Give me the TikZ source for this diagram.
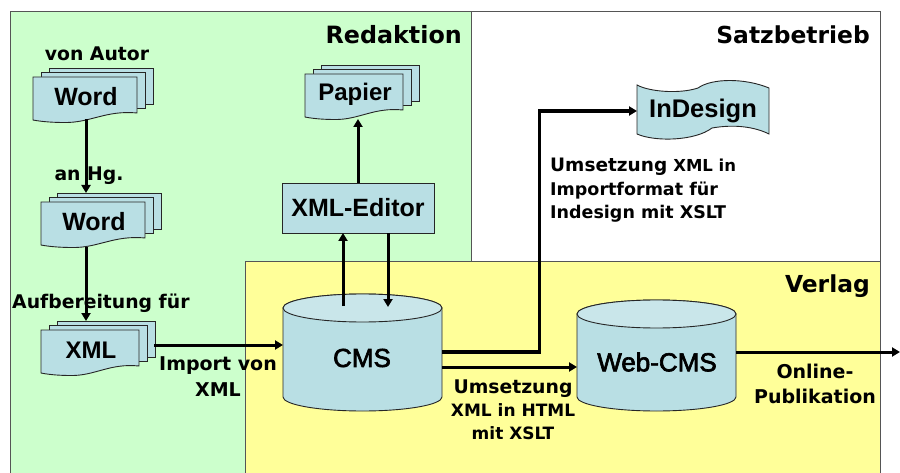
\documentclass[tikz,border=0pt]{standalone}
\usepackage{fontspec}
\setmainfont{Liberation Sans}
\newfontfamily\dbfont[FakeBold=2.5]{Liberation Sans}
\newfontfamily\vfont{DejaVu Sans}
\usetikzlibrary{arrows.meta}
\definecolor{grn}{HTML}{CCFFCC}
\definecolor{ylw}{HTML}{FFFF99}
\definecolor{blu}{HTML}{B9DFE4}
\definecolor{blt}{HTML}{C9E6EA}
\definecolor{brd}{HTML}{555555}
\newcommand{\sz}[1]{\fontsize{#1}{#1}\selectfont}
\tikzset{
  x=1pt,y=-1pt,
  region/.style={draw=brd,line width=1pt},
  shapeline/.style={draw=black!85,fill=blu,line width=0.9pt},
  flow/.style={line width=3pt,-{Triangle[length=8pt,width=9pt]}},
  lbl/.style={font=\vfont\bfseries\fontsize{#1}{#1}\selectfont,inner sep=0pt,align=center},
  nm/.style={font=\bfseries\fontsize{#1}{#1}\selectfont,inner sep=0pt},
  dbn/.style={font=\dbfont\fontsize{26}{26}\selectfont,inner sep=0pt},
  pt/.style={inner sep=0pt,minimum size=0pt}
}
% one page of a document: x,y,w
\newcommand{\docpage}[3]{%
  \path[shapeline] (#1,#2) -- (#1+#3,#2) -- (#1+#3,#2+36)
    .. controls (#1+0.7*#3,#2+33) and (#1+0.55*#3,#2+46) .. (#1+0.3*#3,#2+45.5)
    .. controls (#1+0.15*#3,#2+45.5) and (#1+0.05*#3,#2+44) .. (#1,#2+43) -- cycle;
}
\newcommand{\stack}[4]{% name,x,y,w
  \path[shapeline] (#2+16,#3-9) rectangle ++(#4,36);
  \path[shapeline] (#2+8,#3-4.5) rectangle ++(#4,36);
  \docpage{#2}{#3}{#4}
  \node[pt,minimum width=#4,minimum height=46] (#1) at (#2+#4/2,#3+23) {};
}
\newcommand{\cyl}[6]{% name,cx,left,right,topy,bottomy
  \pgfmathsetmacro{\rx}{(#4-#3)/2}
  \path[shapeline] (#3,#5+14) -- (#3,#6-14) arc[start angle=180,end angle=0,x radius=\rx,y radius=14] -- (#4,#5+14)
     arc[start angle=0,end angle=-180,x radius=\rx,y radius=14];
  \path[shapeline,fill=blt] (#2,#5+14) ellipse[x radius=\rx,y radius=14];
  \node[pt,minimum width=#4-#3,minimum height=#6-#5] (#1) at (#2,{(#5+#6)/2}) {};
}
\begin{document}
\begin{tikzpicture}
\useasboundingbox (0,0) rectangle (900,473);
\fill[white] (0,0) rectangle (900,473);
% regions
\path[region,fill=grn] (10.5,12) rectangle (471.5,480);
\path[region,fill=white] (471.5,12) rectangle (880.5,262);
\path[region,fill=ylw] (245,262) rectangle (880.5,480);
\node[lbl=23.8,anchor=east] (tr) at (462,35) {Redaktion};
\node[lbl=23.4,anchor=east] (ts) at (870,35) {Satzbetrieb};
\node[lbl=23.4,anchor=east] (tv) at (870,286) {Verlag};
% documents
\stack{w1}{33}{77}{104}
\stack{w2}{41}{202}{104}
\stack{x1}{41}{330}{98}
\stack{p1}{305}{74}{98}
\node[nm=25] (w1t) at (86,97) {Word};
\node[nm=25] (w2t) at (94,222) {Word};
\node[nm=24] (x1t) at (91,350) {XML};
\node[nm=24] (p1t) at (355,94) {Papier};
% XML editor
\node[shapeline,minimum width=152pt,minimum height=50pt,inner sep=0pt,font=\bfseries\fontsize{25}{25}\selectfont] (ed) at (358,208) {XML-Editor};
% InDesign tape
\path[shapeline] (637,85) .. controls (650,92) and (680,94) .. (698,88)
  .. controls (712,78) and (745,78) .. (769,88) -- (769,134)
  .. controls (755,127) and (735,124) .. (712,128)
  .. controls (695,141) and (655,142) .. (637,134) -- cycle;
\node[pt,minimum width=132pt,minimum height=57pt] (ind) at (703,111) {};
\node[nm=25.5] (indt) at (703,111) {InDesign};
% cylinders
\cyl{cms}{362.5}{283}{442}{294}{411}
\cyl{web}{656.5}{577}{736}{300}{411}
\node[dbn] (cmst) at (362,358) {CMS};
\node[dbn] (webt) at (657,362) {Web-CMS};
% coordinates
\coordinate (w1o) at (86,119);
\coordinate (w2i) at (86,193);
\coordinate (w2o) at (86,247);
\coordinate (x1i) at (86,321);
\coordinate (x1o) at (154,345);
\coordinate (cmsl) at (283,345);
\coordinate (cmsup) at (343,306);
\coordinate (edl) at (343,233);
\coordinate (edr) at (388,233);
\coordinate (cmsin) at (388,307);
\coordinate (edt) at (358,183);
\coordinate (pb) at (358,119);
\coordinate (cmsa) at (442,352);
\coordinate (cmsb) at (442,367);
\coordinate (bend) at (539.5,352);
\coordinate (bend2) at (539.5,111);
\coordinate (indl) at (637,111);
\coordinate (webl) at (577,367);
\coordinate (webr) at (736,352);
\coordinate (out) at (900,352);
% connectors
\draw[flow] (w1o) -- (w2i);
\draw[flow] (w2o) -- (x1i);
\draw[flow] (x1o) -- (cmsl);
\draw[flow] (cmsup) -- (edl);
\draw[flow] (edr) -- (cmsin);
\draw[flow] (edt) -- (pb);
\draw[flow,line width=3.3pt] (cmsa) -- (bend) -- (bend2) -- (indl);
\draw[flow] (cmsb) -- (webl);
\draw[flow] (webr) -- (out);
% labels
\node[lbl=18.8] (l1) at (97,54) {von Autor};
\node[lbl=18.8] (l2) at (89,176) {an Hg.};
\node[lbl=18.8,anchor=west] (l3) at (12,303) {Aufbereitung für};
\node[lbl=19] (l4) at (218,377) {Import von\\[7pt]XML};
\node[lbl=17.5,anchor=north west,align=left] (l5) at (550,158) {{\sz{18.5}Umsetzung} {\sz{16.5}XML in}\\[5.5pt]Importformat für\\[5.5pt]Indesign mit XSLT};
\node[lbl=17] (l6) at (513,410) {{\sz{18.8}Umsetzung}\\[6pt]XML in HTML\\[6pt]mit XSLT};
\node[lbl=19] (l7) at (815,384) {Online-\\[6pt]Publikation};
\end{tikzpicture}
\end{document}
